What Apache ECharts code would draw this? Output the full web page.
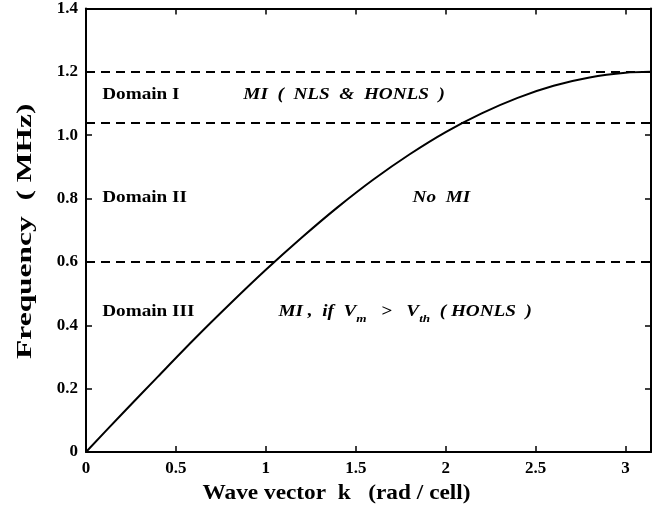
<!DOCTYPE html>
<html>
<head>
<meta charset="utf-8">
<script src="https://cdn.jsdelivr.net/npm/echarts@6/dist/echarts.min.js"></script>
<style>
  html, body { margin: 0; padding: 0; background: #fff; }
  #chart { width: 672px; height: 529px; }
</style>
</head>
<body>
<div id="chart"></div>
<script>
// Dispersion curve: frequency vs wave vector
const waveVector = [0, 0.2, 0.4, 0.6, 0.8, 1.0, 1.2, 1.4, 1.6, 1.8, 2.0, 2.2, 2.4, 2.6, 2.8, 3.0, 3.1416];
const frequency  = [0, 0.12, 0.238, 0.355, 0.467, 0.575, 0.677, 0.773, 0.861, 0.94, 1.01, 1.069, 1.118, 1.156, 1.182, 1.197, 1.2];

// Domain boundaries (MHz)
const boundaries = [1.2, 1.04, 0.6];

// Region labels: [k, f, text]
const domainNames = [
  [0.09, 1.12, 'Domain I'],
  [0.09, 0.796, 'Domain II'],
  [0.09, 0.437, 'Domain III']
];
const domainNotes = [
  [0.875, 1.12, '{t|MI  (  NLS  &  HONLS  )}'],
  [1.816, 0.796, '{t|No  MI}'],
  [1.07, 0.437, '{t|MI ,  if  V}{s|m}{t|   >   V}{s|th}{t|  ( HONLS  )}']
];

const xTicks = ['0', '0.5', '1', '1.5', '2', '2.5', '3'];
const yTicks = ['0', '0.2', '0.4', '0.6', '0.8', '1.0', '1.2', '1.4'];

const xTitle = 'Wave vector  k   (rad / cell)';
const yTitle = 'Frequency  ( MHz)';

const serif = '"Liberation Serif", "Times New Roman", serif';
const ink = '#000';

const chart = echarts.init(document.getElementById('chart'), null, { renderer: 'canvas' });

const baseAxisLine = { show: true, onZero: false, lineStyle: { color: ink, width: 2 } };
const tickStyle = { show: true, inside: true, length: 6, lineStyle: { color: ink, width: 1.5 } };

chart.setOption({
  animation: false,
  backgroundColor: '#fff',
  grid: { left: 86, right: 21, top: 7, bottom: 77, containLabel: false },
  xAxis: [{
    type: 'value', min: 0, max: Math.PI, interval: 0.5,
    axisLine: baseAxisLine, axisTick: tickStyle, splitLine: { show: false },
    axisLabel: {
      margin: 8, color: ink, fontFamily: serif, fontWeight: 'bold', fontSize: 17,
      formatter: v => { const i = Math.round(v / 0.5); return Math.abs(v - i * 0.5) < 1e-6 ? xTicks[i] : ''; }
    }
  }, {
    type: 'value', position: 'top', min: 0, max: Math.PI, interval: 0.5,
    axisLine: baseAxisLine, axisTick: tickStyle, axisLabel: { show: false }, splitLine: { show: false }
  }],
  yAxis: [{
    type: 'value', min: 0, max: 1.4, interval: 0.2,
    axisLine: baseAxisLine, axisTick: tickStyle, splitLine: { show: false },
    axisLabel: {
      margin: 8, color: ink, fontFamily: serif, fontWeight: 'bold', fontSize: 17,
      formatter: v => yTicks[Math.round(v / 0.2)]
    }
  }, {
    type: 'value', position: 'right', min: 0, max: 1.4, interval: 0.2,
    axisLine: baseAxisLine, axisTick: tickStyle, axisLabel: { show: false }, splitLine: { show: false }
  }],
  series: [{
    type: 'line',
    data: waveVector.map((k, i) => [k, frequency[i]]),
    smooth: 0.3,
    showSymbol: false,
    lineStyle: { color: ink, width: 2 },
    markLine: {
      silent: true,
      symbol: ['none', 'none'],
      label: { show: false },
      lineStyle: { color: ink, width: 2, type: [9, 6] },
      data: boundaries.map(b => ({ yAxis: b }))
    },
    z: 3
  }]
});

// Region annotations placed in data coordinates
function placeText(k, f, text, italic) {
  const p = chart.convertToPixel({ xAxisIndex: 0, yAxisIndex: 0 }, [k, f]);
  const style = italic ? 'italic' : 'normal';
  return {
    type: 'text',
    x: p[0], y: p[1] - 10,
    scaleX: 1.2,
    z: 10,
    style: {
      text: text,
      x: 0, y: 0,
      align: 'left', verticalAlign: 'top',
      fill: ink,
      font: `${style} bold 16px ${serif}`,
      rich: {
        t: { fontFamily: serif, fontWeight: 'bold', fontStyle: style, fontSize: 16, lineHeight: 20, verticalAlign: 'top', fill: ink },
        s: { fontFamily: serif, fontWeight: 'bold', fontStyle: style, fontSize: 11, lineHeight: 32, verticalAlign: 'middle', fill: ink }
      }
    }
  };
}

const elements = [];
domainNames.forEach(d => elements.push(placeText(d[0], d[1], '{t|' + d[2] + '}', false)));
domainNotes.forEach(d => elements.push(placeText(d[0], d[1], d[2], true)));

// Axis titles
const grid = chart.getModel().getComponent('grid').coordinateSystem.getRect();
elements.push({
  type: 'text',
  x: grid.x + grid.width / 2 - 32, y: 493,
  scaleX: 1.06,
  style: {
    text: xTitle, x: 0, y: 0, align: 'center', verticalAlign: 'middle', fill: ink,
    font: `bold 22px ${serif}`
  }
});
elements.push({
  type: 'text',
  x: 25, y: grid.y + grid.height / 2 + 1,
  rotation: Math.PI / 2,
  scaleX: 1.43,
  style: {
    text: yTitle, x: 0, y: 0, align: 'center', verticalAlign: 'middle', fill: ink,
    font: `bold 22px ${serif}`
  }
});
chart.setOption({ graphic: { elements: elements } });
</script>
</body>
</html>
